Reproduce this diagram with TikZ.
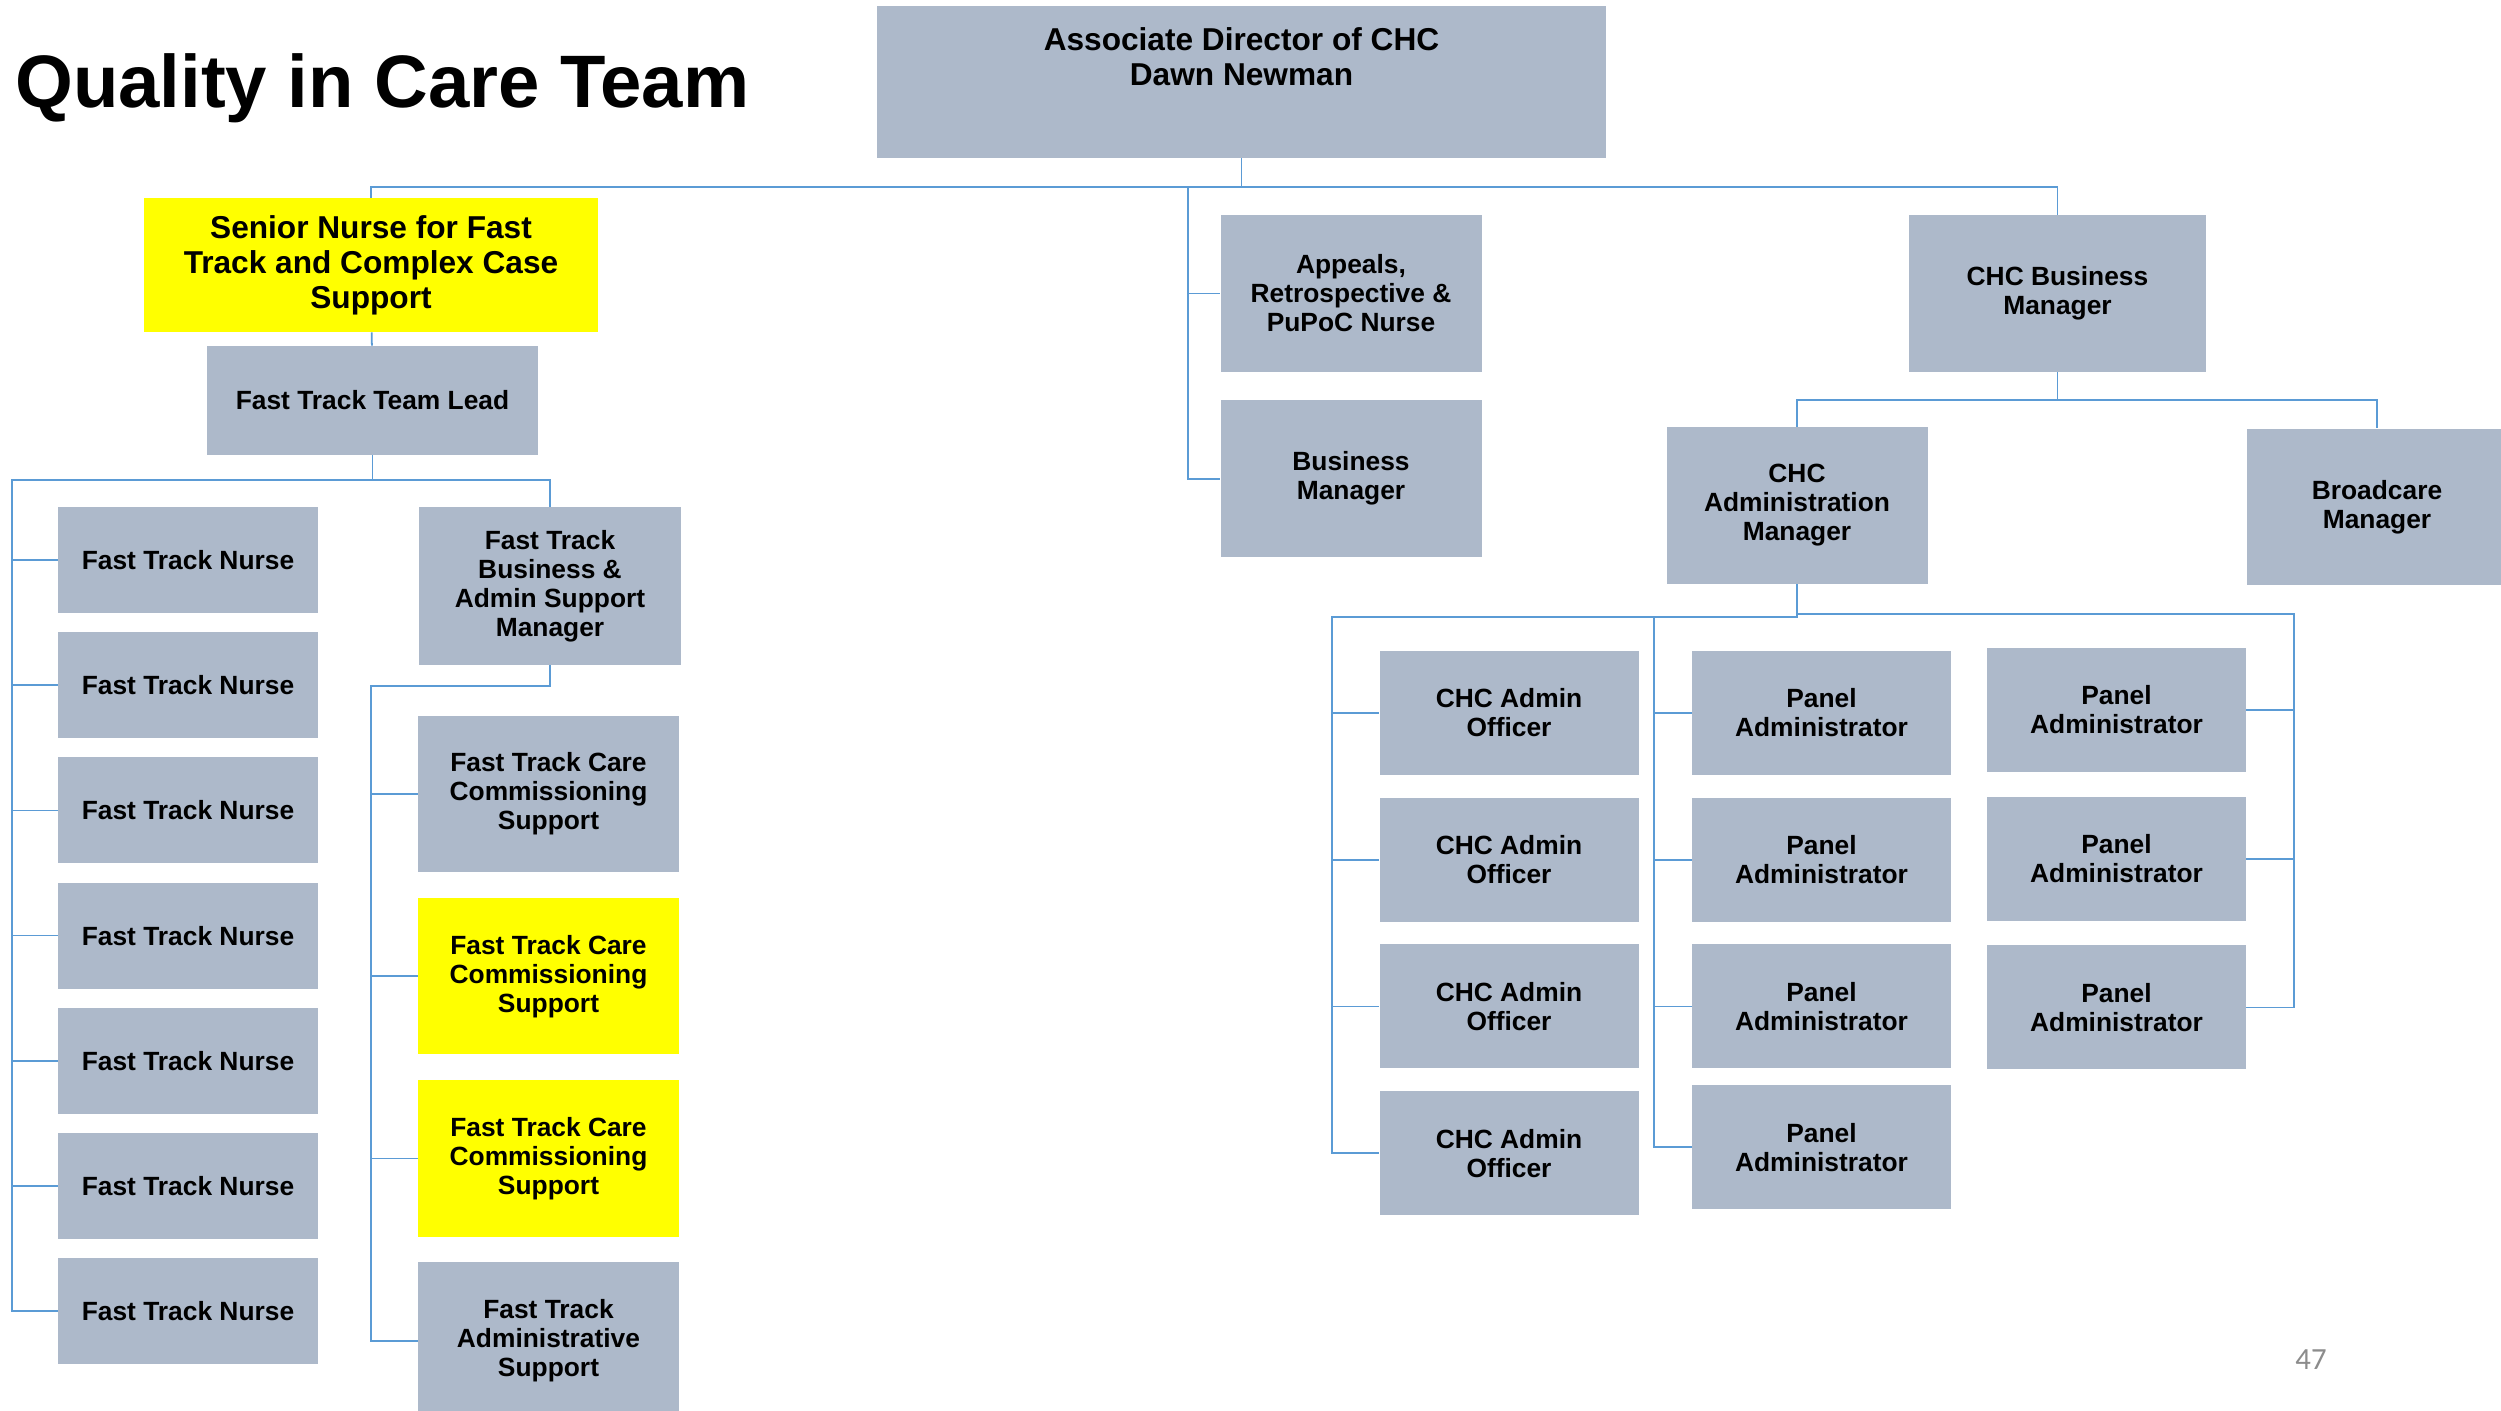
\documentclass[tikz,border=0pt]{standalone}
\usepackage{fontspec}
\setmainfont{Liberation Sans}
\newfontfamily\pagefont{Carlito}
\usetikzlibrary{positioning}
\definecolor{postgray}{HTML}{ADB9CA}
\definecolor{hiyellow}{HTML}{FFFF00}
\definecolor{linkblue}{HTML}{5B9BD5}
\definecolor{pagegray}{HTML}{8C8C8C}

\begin{document}
\begin{tikzpicture}[x=0.2mm, y=-0.2mm,
  box/.style={fill=postgray, inner sep=0pt, align=center, font=\bfseries\fontsize{15}{16.5}\selectfont},
  hl/.style={fill=hiyellow},
  big/.style={font=\bfseries\fontsize{18}{20}\selectfont},
  nurse/.style={box, minimum width=51.8mm, minimum height=21.2mm},
  post/.style={box, minimum width=52.2mm, minimum height=31.3mm},
  clerk/.style={box, minimum width=51.8mm, minimum height=24.8mm},
  conn/.style={draw=linkblue, line width=1pt}]
\fill[white] (0,0) rectangle (2501,1411);
\useasboundingbox (0,0) rectangle (2501,1411);
\node[anchor=base west, font=\bfseries\fontsize{42.3}{48}\selectfont] (title) at (9,108) {Quality in Care Team};
\node[box, minimum width=145.8mm, minimum height=30.4mm] (dir) at (1241.5,82) {};
\node[big, align=center] (dirname) at (1241.5,57) {Associate Director of CHC\\Dawn Newman};
\node[box, hl, big, minimum width=90.8mm, minimum height=26.8mm] (senior) at (371,265) {Senior Nurse for Fast\\Track and Complex Case\\Support};
\node[box, minimum width=66.2mm, minimum height=21.8mm] (lead) at (372.5,400.5) {Fast Track Team Lead};
\node[nurse] (n1) at (188,560) {Fast Track Nurse};
\node[nurse, below=3.7mm of n1] (n2) {Fast Track Nurse};
\node[nurse, below=3.7mm of n2] (n3) {Fast Track Nurse};
\node[nurse, below=3.7mm of n3] (n4) {Fast Track Nurse};
\node[nurse, below=3.7mm of n4] (n5) {Fast Track Nurse};
\node[nurse, below=3.7mm of n5] (n6) {Fast Track Nurse};
\node[nurse, below=3.7mm of n6] (n7) {Fast Track Nurse};
\node[box, minimum width=52.4mm, minimum height=31.6mm] (ftmgr) at (550,586) {Fast Track\\Business \&\\Admin Support\\Manager};
\node[post] (ft1) at (548.5,794) {Fast Track Care\\Commissioning\\Support};
\node[post, hl, below=5mm of ft1] (ft2) {Fast Track Care\\Commissioning\\Support};
\node[post, hl, below=5mm of ft2] (ft3) {Fast Track Care\\Commissioning\\Support};
\node[post, below=5mm of ft3] (ft4) {Fast Track\\Administrative\\Support};
\node[post] (appeals) at (1351,293.5) {Appeals,\\Retrospective \&\\PuPoC Nurse};
\node[post, below=5.6mm of appeals] (busmgr) {Business\\Manager};
\node[post, minimum width=59.4mm] (chcbm) at (2057.5,293.5) {CHC Business\\Manager};
\node[post] (adminmgr) at (1797,505.5) {CHC\\Administration\\Manager};
\node[post] (broad) at (2377,507) {Broadcare\\Manager};
\node[clerk] (off1) at (1509,713) {CHC Admin\\Officer};
\node[clerk, below=4.4mm of off1] (off2) {CHC Admin\\Officer};
\node[clerk, below=4.4mm of off2] (off3) {CHC Admin\\Officer};
\node[clerk, below=4.4mm of off3] (off4) {CHC Admin\\Officer};
\node[clerk] (pa1) at (1821.5,713) {Panel\\Administrator};
\node[clerk, below=4.4mm of pa1] (pa2) {Panel\\Administrator};
\node[clerk, below=4.4mm of pa2] (pa3) {Panel\\Administrator};
\node[clerk, below=3.2mm of pa3] (pa4) {Panel\\Administrator};
\node[clerk] (pb1) at (2116.5,710) {Panel\\Administrator};
\node[clerk, below=4.8mm of pb1] (pb2) {Panel\\Administrator};
\node[clerk, below=4.8mm of pb2] (pb3) {Panel\\Administrator};
\node[text=pagegray, font=\pagefont\fontsize{17.5}{20}\selectfont] (pnum) at (2311,1360) {47};
\coordinate (midbus) at (1188,187);
\coordinate (nbus) at (12,480);
\coordinate (fbus) at (371,686);
\coordinate (obus) at (1332,617);
\coordinate (pbus) at (1654,617);
\coordinate (qbus) at (2294,614);
\draw[conn] (dir.south) |- (midbus) |- (appeals.west);
\draw[conn] (midbus) |- (busmgr.west);
\draw[conn] (dir.south) -- ++(0,29) -| (senior.north);
\draw[conn] (dir.south) -- ++(0,29) -| (chcbm.north);
\draw[conn] (senior) -- (lead);
\draw[conn] (lead.south) |- (nbus) |- (n1.west);
\draw[conn] (lead.south) |- (nbus) |- (n2.west);
\draw[conn] (lead.south) |- (nbus) |- (n3.west);
\draw[conn] (lead.south) |- (nbus) |- (n4.west);
\draw[conn] (lead.south) |- (nbus) |- (n5.west);
\draw[conn] (lead.south) |- (nbus) |- (n6.west);
\draw[conn] (lead.south) |- (nbus) |- (n7.west);
\draw[conn] (lead.south) |- (nbus -| ftmgr.north) -- (ftmgr.north);
\draw[conn] (ftmgr.south) |- (fbus) |- (ft1.west);
\draw[conn] (ftmgr.south) |- (fbus) |- (ft2.west);
\draw[conn] (ftmgr.south) |- (fbus) |- (ft3.west);
\draw[conn] (ftmgr.south) |- (fbus) |- (ft4.west);
\draw[conn] (chcbm.south) -- ++(0,28) -| (adminmgr.north);
\draw[conn] (chcbm.south) -- ++(0,28) -| (broad.north);
\draw[conn] (adminmgr.south) |- (obus) |- (off1.west);
\draw[conn] (adminmgr.south) |- (obus) |- (off2.west);
\draw[conn] (adminmgr.south) |- (obus) |- (off3.west);
\draw[conn] (adminmgr.south) |- (obus) |- (off4.west);
\draw[conn] (adminmgr.south) |- (pbus) |- (pa1.west);
\draw[conn] (adminmgr.south) |- (pbus) |- (pa2.west);
\draw[conn] (adminmgr.south) |- (pbus) |- (pa3.west);
\draw[conn] (adminmgr.south) |- (pbus) |- (pa4.west);
\draw[conn] (adminmgr.south) |- (qbus) |- (pb1.east);
\draw[conn] (adminmgr.south) |- (qbus) |- (pb2.east);
\draw[conn] (adminmgr.south) |- (qbus) |- (pb3.east);
\end{tikzpicture}
\end{document}
